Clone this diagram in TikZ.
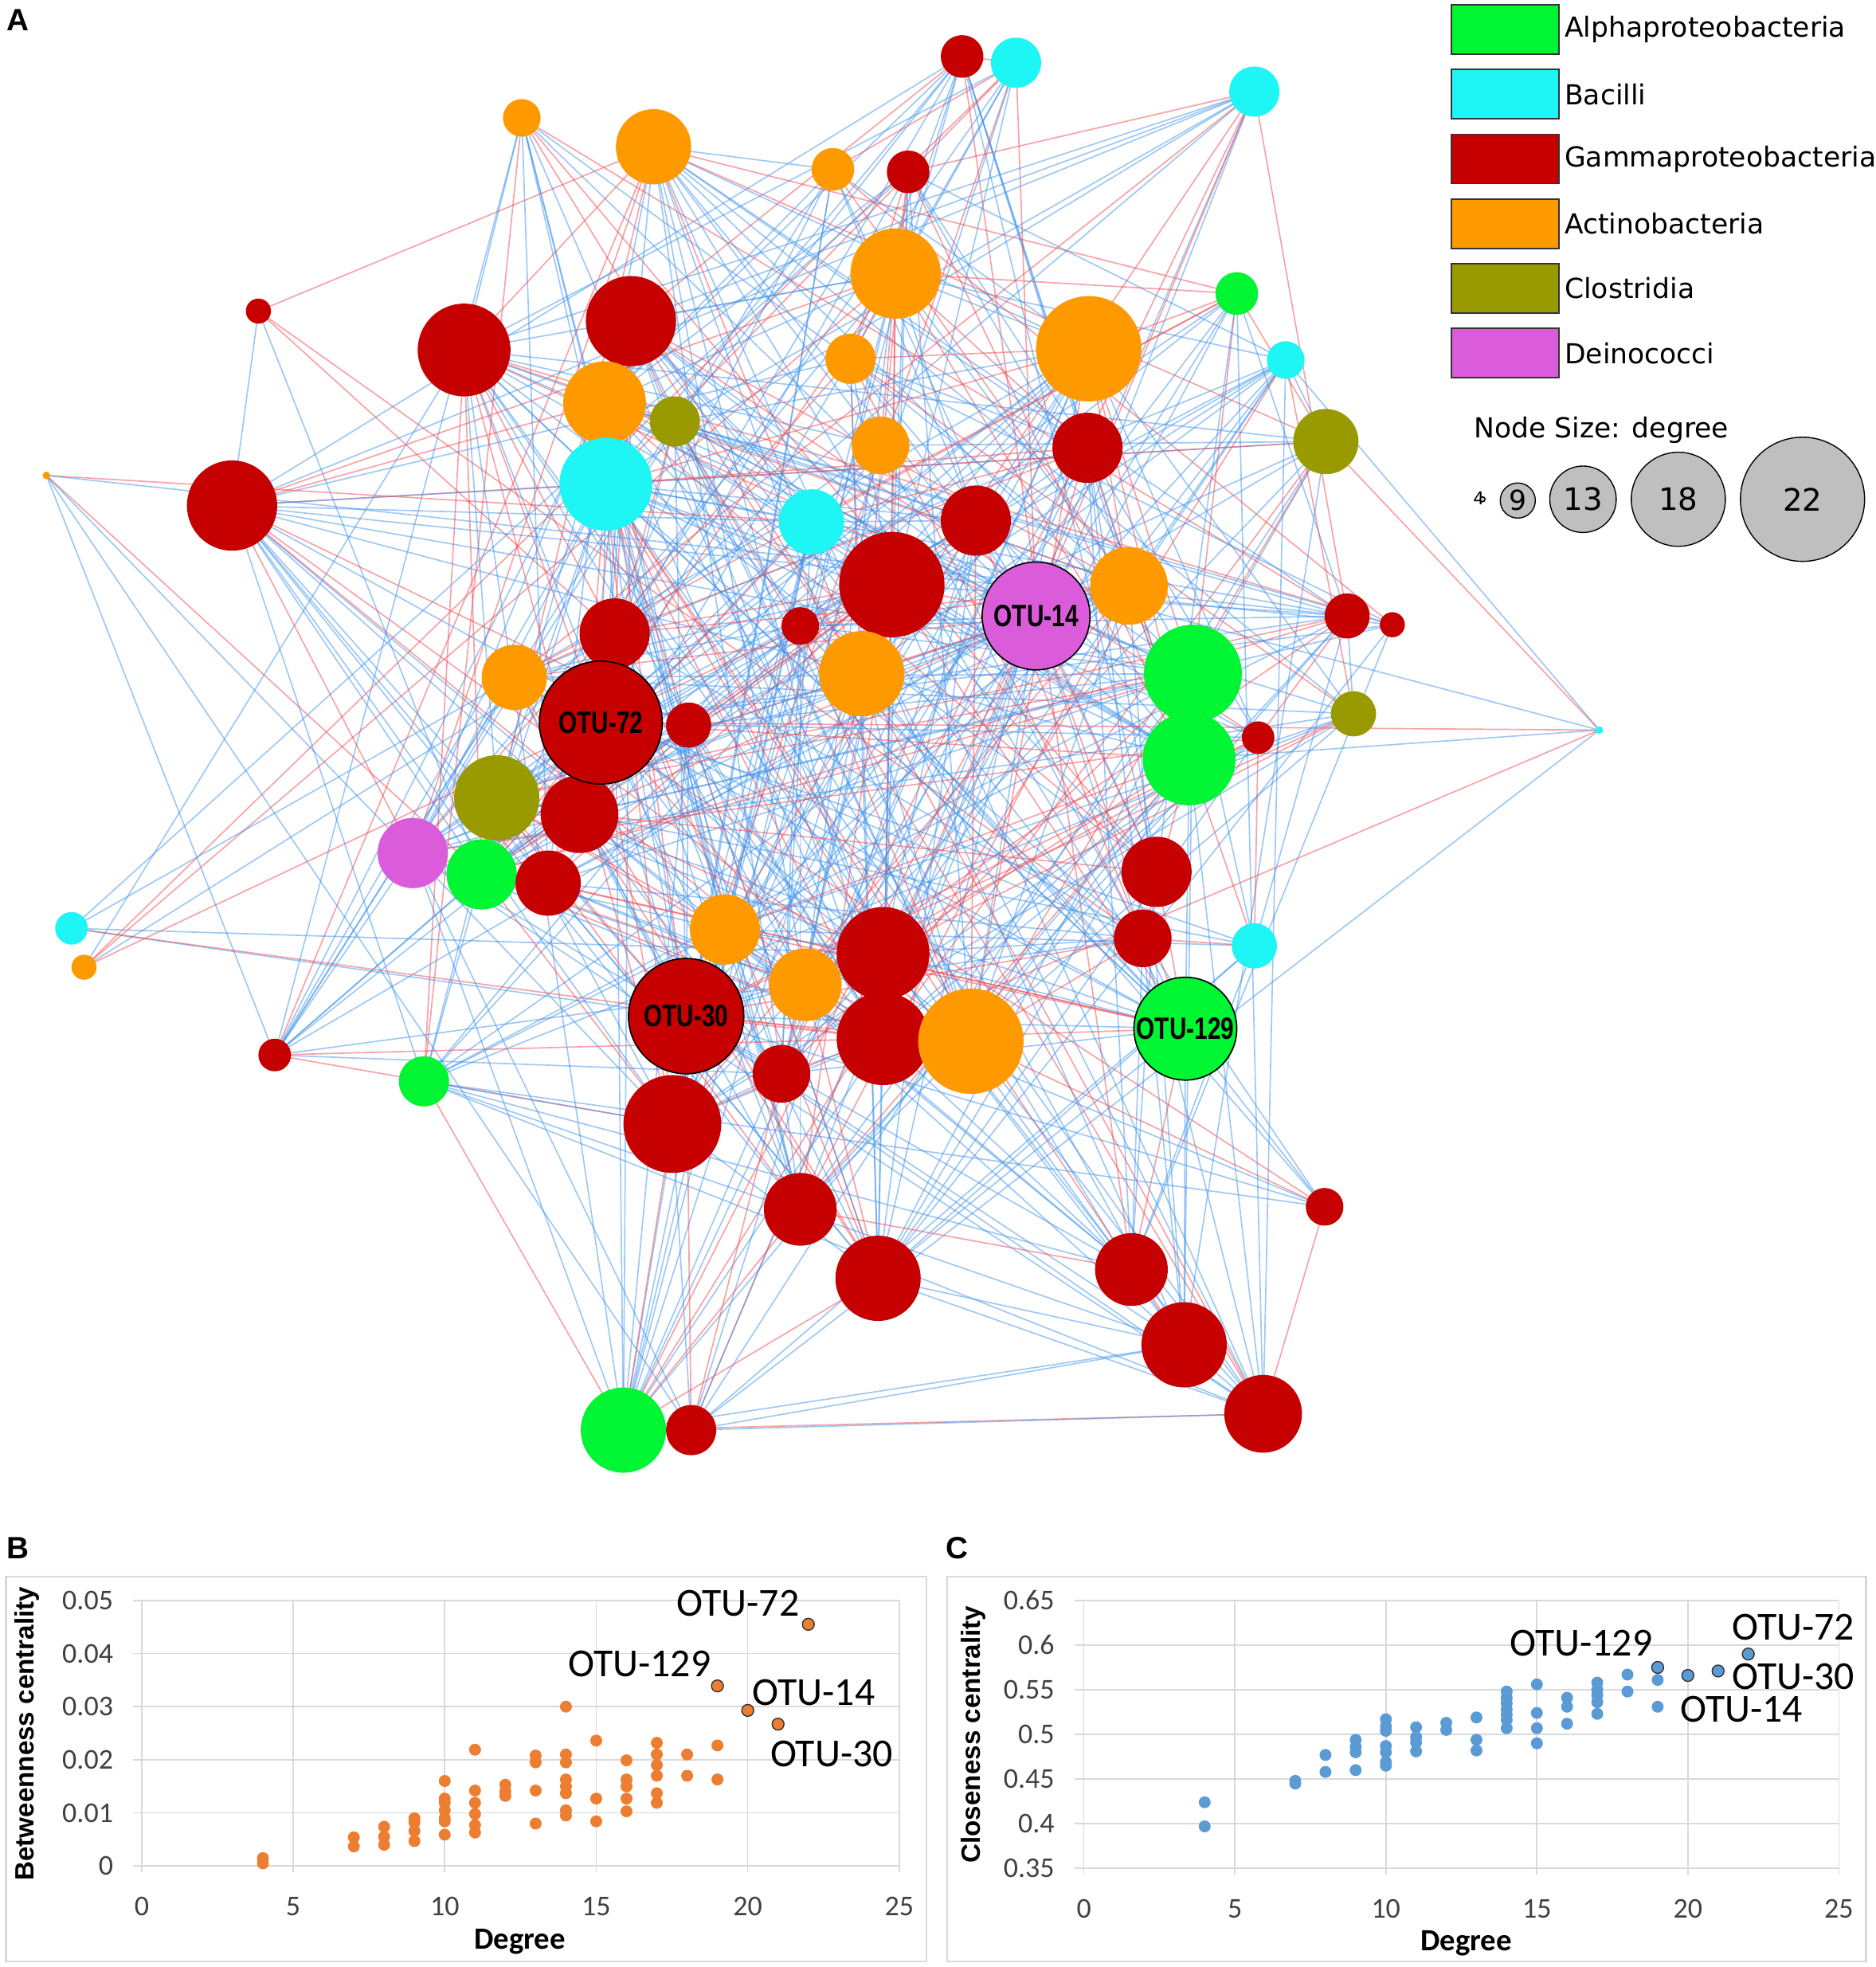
\documentclass[tikz,border=0pt]{standalone}
\usepackage{fontspec}
\usetikzlibrary{positioning}
\newfontfamily\legendfont{DejaVu Sans}
\newfontfamily\otufont[FakeStretch=0.77]{Liberation Sans}
\newfontfamily\chartfont{Carlito}
\newfontfamily\tagfont{Liberation Sans}

\definecolor{cAlpha}{RGB}{0,245,50}
\definecolor{cBac}{RGB}{30,245,245}
\definecolor{cGam}{RGB}{198,0,0}
\definecolor{cAct}{RGB}{255,153,0}
\definecolor{cClo}{RGB}{153,153,0}
\definecolor{cDei}{RGB}{218,92,218}
\definecolor{linkblue}{RGB}{60,145,235}
\definecolor{linkred}{RGB}{240,70,80}
\definecolor{dotorange}{RGB}{237,125,49}
\definecolor{dotblue}{RGB}{91,155,213}
\definecolor{gridgray}{RGB}{217,217,217}

\pgfdeclarelayer{links}
\pgfsetlayers{links,main}

\begin{document}
\begin{tikzpicture}[
    x = 0.02cm, y = -0.02cm,
    otu/.style={circle, inner sep=0pt, minimum size=#1*0.04cm},
    hub/.style={draw=black, line width=0.6pt, font=\otufont\bfseries\fontsize{14}{14}\selectfont},
    bluelink/.style={linkblue, opacity=0.5, line width=0.6pt},
    redlink/.style={linkred, opacity=0.5, line width=0.6pt},
    legbox/.style={draw=black!80, line width=0.6pt, minimum width=1.72cm, minimum height=0.786cm, inner sep=0pt},
    legtext/.style={inner sep=0pt, font=\legendfont\fontsize{12.5}{12.5}\selectfont},
    sizekey/.style={circle, draw=black, fill=black!25, inner sep=0pt, line width=0.5pt, font=\legendfont\fontsize{14}{14}\selectfont},
    paneltag/.style={inner sep=0pt, font=\tagfont\bfseries\fontsize{14}{14}\selectfont},
    gridline/.style={gridgray, line width=0.6pt},
    framebox/.style={draw=gridgray, line width=0.8pt},
    ticklabel/.style={inner sep=0pt, text=black!75, font=\chartfont\fontsize{13}{13}\selectfont},
    axistitle/.style={inner sep=0pt, font=\chartfont\bfseries\fontsize{14}{14}\selectfont},
    ytitle/.style={inner sep=0pt, rotate=90, font=\tagfont\bfseries\fontsize{12}{12}\selectfont},
    hublabel/.style={inner sep=0pt, font=\chartfont\fontsize{18}{18}\selectfont},
    hubdot/.style={draw=black!80, line width=0.5pt}
]
    \useasboundingbox (0,0) rectangle (1495,1568);

    % panel A: network
    \node[paneltag] (tagA) at (14,16) {A};
    \foreach \i/\x/\y/\r/\c in {
        1/767/45/17/cGam, 2/810/50/20/cBac, 3/1000/73/20/cBac, 4/416/94/15/cAct,
        5/521/117/30/cAct, 6/664/135/17/cAct, 7/724/137/17/cGam, 8/714/218/36/cAct,
        9/986/234/17/cAlpha, 10/206/248/10/cGam, 11/370/279/37/cGam, 12/503/256/36/cGam,
        13/678/286/20/cAct, 14/868/278/42/cAct, 15/1025/287/15/cBac, 16/482/321/33/cAct,
        17/538/336/20/cClo, 18/1057/352/26/cClo, 19/702/355/23/cAct, 20/867/357/28/cGam,
        21/483/386/37/cBac, 22/185/403/36/cGam, 23/37/379/3/cAct, 24/647/416/26/cBac,
        25/778/415/28/cGam, 26/711/466/42/cGam, 28/900/467/31/cAct, 29/1074/491/18/cGam,
        30/1110/498/10/cGam, 31/490/505/28/cGam, 32/638/499/15/cGam, 33/410/540/26/cAct,
        34/687/537/34/cAct, 35/951/537/39/cAlpha, 37/549/578/18/cGam, 38/1003/588/13/cGam,
        39/1079/569/18/cClo, 40/1275/582/3/cBac, 41/948/605/37/cAlpha, 42/396/636/34/cClo,
        43/462/649/31/cGam, 44/329/680/28/cDei, 45/384/697/28/cAlpha, 46/437/704/26/cGam,
        47/922/695/28/cGam, 48/57/740/13/cBac, 49/67/771/10/cAct, 50/578/741/28/cAct,
        51/704/760/37/cGam, 52/911/748/23/cGam, 53/1000/754/18/cBac, 54/642/785/29/cAct,
        56/704/828/37/cGam, 57/774/830/42/cAct, 59/219/841/13/cGam, 60/338/862/20/cAlpha,
        61/623/856/23/cGam, 62/536/896/39/cGam, 63/1056/962/15/cGam, 64/638/964/29/cGam,
        65/700/1019/34/cGam, 66/902/1012/29/cGam, 67/944/1072/34/cGam, 68/1007/1127/31/cGam,
        69/497/1140/34/cAlpha, 70/551/1140/20/cGam}{
        \node[otu=\r, fill=\c] (n\i) at (\x,\y) {};
        \expandafter\xdef\csname otx\i\endcsname{\x}
        \expandafter\xdef\csname oty\i\endcsname{\y}
        \expandafter\xdef\csname otr\i\endcsname{\r}
    }
    \foreach \i/\x/\y/\r/\c/\t in {27/826/491/43/cDei/OTU-14, 36/479/576/49/cGam/OTU-72,
        55/547/810/46/cGam/OTU-30, 58/945/820/41/cAlpha/OTU-129}{
        \node[otu=\r, hub, fill=\c] (n\i) at (\x,\y) {\t};
        \expandafter\xdef\csname otx\i\endcsname{\x}
        \expandafter\xdef\csname oty\i\endcsname{\y}
        \expandafter\xdef\csname otr\i\endcsname{\r}
    }

    % co-occurrence links
    \pgfmathsetseed{2468}
    \begin{pgfonlayer}{links}
    \foreach \i in {1,...,69}{
        \pgfmathtruncatemacro\jfirst{\i+1}
        \foreach \j in {\jfirst,...,70}{
            \edef\ra{\csname otr\i\endcsname}\edef\rb{\csname otr\j\endcsname}
            \edef\xa{\csname otx\i\endcsname}\edef\xb{\csname otx\j\endcsname}
            \edef\ya{\csname oty\i\endcsname}\edef\yb{\csname oty\j\endcsname}
            \pgfmathsetmacro\plink{1.4*(3.9+0.366*\ra)*(3.9+0.366*\rb)/950*max(0.15,1.5-veclen(\xa-\xb,\ya-\yb)/1000)}
            \pgfmathsetmacro\roll{rnd}
            \ifdim\roll pt<\plink pt
                \pgfmathsetmacro\hue{rnd}
                \ifdim\hue pt<0.3pt
                    \draw[redlink] (n\i.center) -- (n\j.center);
                \else
                    \draw[bluelink] (n\i.center) -- (n\j.center);
                \fi
            \fi
        }
    }
    \end{pgfonlayer}

    % legend
    \foreach \c/\t [count=\n] in {cAlpha/Alphaproteobacteria, cBac/Bacilli,
        cGam/Gammaproteobacteria, cAct/Actinobacteria, cClo/Clostridia, cDei/Deinococci}{
        \node[legbox, fill=\c] (key\n) at (1200,{23.5+51.6*(\n-1)}) {};
        \node[legtext, right=0.07cm of key\n] {\t};
    }
    \node[legtext, anchor=west] (sizetitle) at (1174.7,342.6) {Node Size: degree};
    \node[inner sep=0pt, font=\legendfont\fontsize{8}{8}\selectfont] (s4) at (1179,397) {4};
    \node[sizekey, minimum size=0.08cm] (s4dot) at (1182,398) {};
    \node[sizekey, minimum size=0.56cm, font=\legendfont\fontsize{12.5}{12.5}\selectfont] (s9) at (1210,399) {9};
    \node[sizekey, minimum size=1.06cm] (s13) at (1262,398) {13};
    \node[sizekey, minimum size=1.5cm] (s18) at (1338,398) {18};
    \node[sizekey, minimum size=1.98cm] (s22) at (1437,398) {22};

    % panel B: betweenness
    \node[paneltag] (tagB) at (14,1234) {B};
    \draw[framebox] (4.8,1257) rectangle (738.5,1563.6);
    \begin{scope}[shift={(113,1487.5)}, x=0.4832cm, y=84.72cm]
        \foreach \k/\t in {0/0, 1/0.01, 2/0.02, 3/0.03, 4/0.04, 5/0.05}{
            \draw[gridline] (-0.3,{\k/100}) -- (25,{\k/100});
            \node[ticklabel, anchor=east] at (-0.93,{\k/100}) {\t};
        }
        \foreach \d in {0,5,...,25}{
            \draw[gridline] (\d,-0.0012) -- (\d,0.05);
            \node[ticklabel] at (\d,-0.0076) {\d};
        }
        \foreach \d/\v in {4/0.0005, 4/0.0015, 7/0.0037, 7/0.0054, 8/0.0040, 8/0.0055, 8/0.0074,
            9/0.0047, 9/0.0066, 9/0.0082, 9/0.0090, 10/0.0059, 10/0.0084, 10/0.0090, 10/0.0105,
            10/0.0119, 10/0.0127, 10/0.0160, 11/0.0063, 11/0.0077, 11/0.0098, 11/0.0119,
            11/0.0142, 11/0.0219, 12/0.0132, 12/0.0140, 12/0.0153, 13/0.0080, 13/0.0142,
            13/0.0195, 13/0.0208, 14/0.0095, 14/0.0105, 14/0.0137, 14/0.0150, 14/0.0163,
            14/0.0195, 14/0.0210, 14/0.0300, 15/0.0084, 15/0.0127, 15/0.0236, 16/0.0103,
            16/0.0127, 16/0.0150, 16/0.0163, 16/0.0199, 17/0.0119, 17/0.0137, 17/0.0170,
            17/0.0190, 17/0.0210, 17/0.0232, 18/0.0170, 18/0.0210, 19/0.0163, 19/0.0227}
            \fill[dotorange] (\d,\v) circle (0.095cm);
        \foreach \d/\v in {19/0.0339, 20/0.0293, 21/0.0267, 22/0.0455}
            \filldraw[hubdot, fill=dotorange] (\d,\v) circle (0.095cm);
        \node[hublabel] (b72) at (19.68,0.0495) {OTU-72};
        \node[hublabel] (b129) at (16.43,0.0380) {OTU-129};
        \node[hublabel] (b14) at (22.18,0.0326) {OTU-14};
        \node[hublabel] (b30) at (22.77,0.0211) {OTU-30};
        \node[axistitle] (bdeg) at (12.48,-0.0143) {Degree};
        \node[ytitle] (bcent) at (-3.79,0.0249) {Betweenness centrality};
    \end{scope}

    % panel C: closeness
    \node[paneltag] (tagC) at (763,1234) {C};
    \draw[framebox] (755.1,1257) rectangle (1487.7,1563.6);
    \begin{scope}[shift={(864.1,1738.5)}, x=0.4816cm, y=14.24cm]
        \foreach \k/\t in {7/0.35, 8/0.4, 9/0.45, 10/0.5, 11/0.55, 12/0.6, 13/0.65}{
            \draw[gridline] (-0.3,{\k/20}) -- (25,{\k/20});
            \node[ticklabel, anchor=east] at (-0.96,{\k/20}) {\t};
        }
        \foreach \d in {0,5,...,25}{
            \draw[gridline] (\d,0.343) -- (\d,0.65);
            \node[ticklabel] at (\d,0.305) {\d};
        }
        \foreach \d/\v in {4/0.424, 4/0.397, 7/0.448, 7/0.445, 8/0.477, 8/0.458, 9/0.494,
            9/0.486, 9/0.480, 9/0.460, 10/0.517, 10/0.509, 10/0.504, 10/0.487, 10/0.480,
            10/0.469, 10/0.465, 11/0.508, 11/0.497, 11/0.491, 11/0.481, 12/0.513, 12/0.505,
            13/0.519, 13/0.494, 13/0.482, 14/0.548, 14/0.541, 14/0.535, 14/0.528, 14/0.522,
            14/0.516, 14/0.507, 15/0.556, 15/0.524, 15/0.507, 15/0.490, 16/0.541, 16/0.531,
            16/0.512, 17/0.558, 17/0.550, 17/0.544, 17/0.536, 17/0.523, 18/0.567, 18/0.548,
            19/0.561, 19/0.531}
            \fill[dotblue] (\d,\v) circle (0.095cm);
        \foreach \d/\v in {19/0.575, 20/0.566, 21/0.571, 22/0.590}
            \filldraw[hubdot, fill=dotblue] (\d,\v) circle (0.095cm);
        \node[hublabel] (c129) at (16.47,0.602) {OTU-129};
        \node[hublabel] (c72) at (23.49,0.620) {OTU-72};
        \node[hublabel] (c30) at (23.49,0.565) {OTU-30};
        \node[hublabel] (c14) at (21.78,0.528) {OTU-14};
        \node[axistitle] (cdeg) at (12.66,0.266) {Degree};
        \node[ytitle] (ccent) at (-3.67,0.50) {Closeness centrality};
    \end{scope}
\end{tikzpicture}
\end{document}
